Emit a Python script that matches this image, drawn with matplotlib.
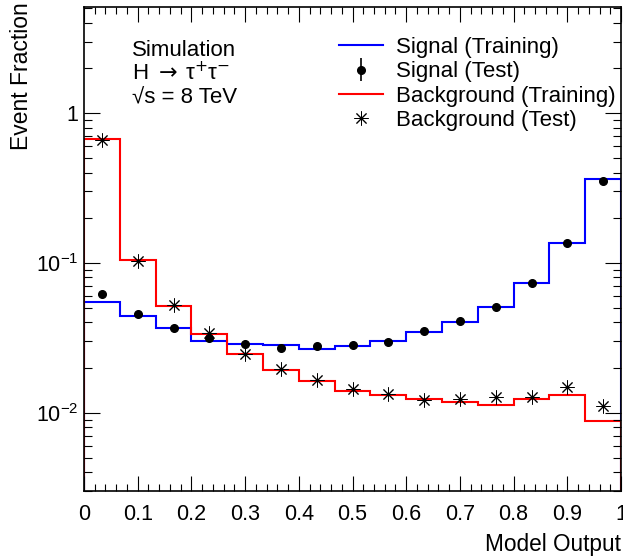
import matplotlib
matplotlib.use("Agg")
import matplotlib.pyplot as plt
import numpy as np
from matplotlib.ticker import LogLocator, FixedLocator, MultipleLocator, FuncFormatter

plt.rcParams['font.family'] = ['Liberation Sans', 'DejaVu Sans']
plt.rcParams['mathtext.fontset'] = 'custom'
plt.rcParams['mathtext.rm'] = 'Liberation Sans'
plt.rcParams['mathtext.it'] = 'Liberation Sans:italic'
plt.rcParams['mathtext.bf'] = 'Liberation Sans:bold'

# 15 bins on the model output
bin_edges = np.linspace(0, 1, 16)
bin_centers = 0.5 * (bin_edges[:-1] + bin_edges[1:])

sig_train = [0.0544, 0.0439, 0.0365, 0.0303, 0.0287, 0.0283, 0.0268, 0.0280,
             0.0303, 0.0347, 0.0404, 0.0511, 0.0736, 0.1366, 0.361]
sig_test = [0.0615, 0.0455, 0.0368, 0.0315, 0.0286, 0.0271, 0.0277, 0.0281,
            0.0296, 0.0349, 0.0408, 0.0509, 0.0734, 0.1366, 0.354]
bkg_train = [0.671, 0.105, 0.0519, 0.0335, 0.0245, 0.0192, 0.0162, 0.0140,
             0.0131, 0.01227, 0.01172, 0.0113, 0.01232, 0.0131, 0.00875]
bkg_test = [0.66, 0.103, 0.052, 0.0341, 0.0247, 0.0195, 0.0164, 0.0143,
            0.0133, 0.0121, 0.0124, 0.0127, 0.0128, 0.01484, 0.0110]

fig = plt.figure(figsize=(6.23, 5.6), dpi=100)
ax = fig.add_axes([84 / 623, 69 / 560, 537 / 623, 484 / 560])

h1 = ax.stairs(sig_train, bin_edges, color='#0000ff', lw=1.5, label='Signal (Training)')
h2 = ax.errorbar(bin_centers, sig_test, yerr=np.zeros(15), fmt='o', color='black',
                 ms=5.5, elinewidth=1.2, capsize=0, label='Signal (Test)')
h3 = ax.stairs(bkg_train, bin_edges, color='#ff0000', lw=1.5, label='Background (Training)')
h4, = ax.plot(bin_centers, bkg_test, ls='none', marker=(8, 2, 0), color='black',
              ms=10, mew=0.7, label='Background (Test)')

ax.set_yscale('log')
ax.set_xlim(0, 1)
ax.set_ylim(0.003, 5.1)

ax.xaxis.set_major_locator(MultipleLocator(0.1))
ax.xaxis.set_minor_locator(MultipleLocator(0.02))
ax.xaxis.set_major_formatter(FuncFormatter(lambda v, p: '%g' % round(v, 2)))
ax.yaxis.set_major_locator(FixedLocator([0.001, 0.01, 0.1, 1]))
ax.yaxis.set_minor_locator(LogLocator(base=10, subs=np.arange(2, 10)))
ytick_names = {0.001: r'$10^{-3}$', 0.01: r'$10^{-2}$', 0.1: r'$10^{-1}$', 1: '1'}
ax.yaxis.set_major_formatter(FuncFormatter(lambda v, p: ytick_names.get(round(v, 3), '')))
ax.yaxis.set_minor_formatter(FuncFormatter(lambda v, p: ''))

ax.tick_params(which='both', direction='in', top=True, right=True, width=0.8,
               labelsize=15.5)
ax.tick_params(axis='x', which='major', length=10.5, pad=9)
ax.tick_params(axis='x', which='minor', length=5.2)
ax.tick_params(axis='y', which='major', length=11.5, pad=4)
ax.tick_params(axis='y', which='minor', length=5.8)
for s in ax.spines.values():
    s.set_linewidth(1.2)

fig.text(22 / 623, 1 - 2 / 560, 'Event Fraction', rotation=90, ha='center',
         va='top', fontsize=16.5)
fig.text(621 / 623, 1 - 545 / 560, 'Model Output', ha='right', va='center',
         fontsize=16.3)

fig.text(132 / 623, 1 - 56 / 560, 'Simulation', fontsize=16, va='baseline')
fig.text(132 / 623, 1 - 80 / 560, r'H $\rightarrow\,$τ$^{+}$τ$^{-}$',
         fontsize=16, va='baseline', math_fontfamily='dejavusans')
fig.text(132 / 623, 1 - 103 / 560, '√s = 8 TeV', fontsize=16, va='baseline')

ax.legend(handles=[h1, h2, h3, h4], loc='upper left',
          bbox_to_anchor=(339 / 623, 1 - 37 / 560),
          bbox_transform=fig.transFigure, frameon=False, fontsize=16,
          borderpad=0, borderaxespad=0, handlelength=2.0, handletextpad=0.55,
          labelspacing=0.15, numpoints=1)

fig.savefig('out.png', dpi=100)
